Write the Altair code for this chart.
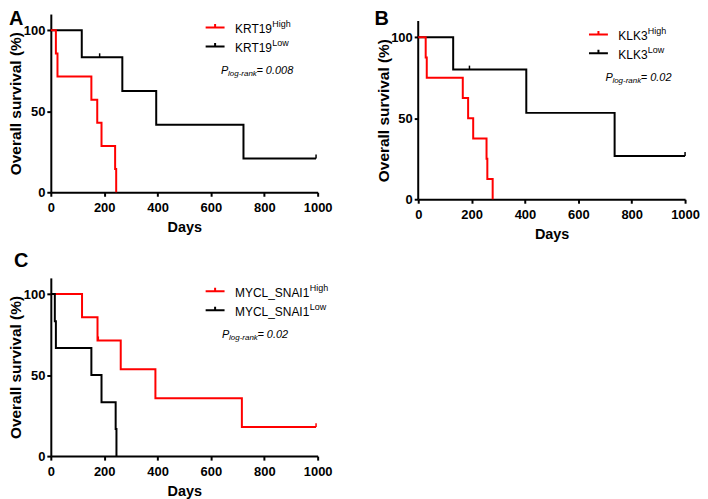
import altair as alt
import pandas as pd

# ---------------- data ----------------
# Panel A : KRT19
A_high_days = [0, 19, 25, 152, 174, 190, 241, 245]
A_high_surv = [100, 85.7, 71.4, 57.1, 42.9, 28.6, 14.3, 0]
A_low_days = [0, 116, 268, 395, 722, 994]
A_low_surv = [100, 83.3, 62.5, 41.7, 20.8, 20.8]
A_low_cens_days = [183, 994]
A_low_cens_surv = [83.3, 20.8]

# Panel B : KLK3
B_high_days = [0, 28, 32, 167, 187, 206, 256, 259, 279]
B_high_surv = [100, 87.5, 75, 62.5, 50, 37.5, 25, 12.5, 0]
B_low_days = [0, 131, 405, 736, 1000]
B_low_surv = [100, 80, 53.3, 26.7, 26.7]
B_low_cens_days = [192, 1000]
B_low_cens_surv = [80, 26.7]

# Panel C : MYCL_SNAI1
C_high_days = [0, 117, 175, 262, 392, 716, 994]
C_high_surv = [100, 85.7, 71.4, 53.6, 35.7, 17.9, 17.9]
C_high_cens_days = [178, 994]
C_high_cens_surv = [71.4, 17.9]
C_low_days = [0, 15, 19, 152, 190, 243, 246]
C_low_surv = [100, 83.3, 66.7, 50, 33.3, 16.7, 0]

x_ticks = [0, 200, 400, 600, 800, 1000]
y_ticks = [0, 50, 100]
Y_MAX = 110

RED = "#ff0000"
BLACK = "#000000"
FONT = "Liberation Sans"
W, H = 268, 179
B_SHIFT = 7  # panel B sits 7px lower than panel A
PX_PER_UNIT = H / Y_MAX

ONE = alt.InlineData(values=[{"k": 1}])


def make_axes(extra_top):
    xaxis = alt.Axis(values=x_ticks, format="d", title="Days", grid=False, domainColor=BLACK,
                     domainWidth=2, tickColor=BLACK, tickWidth=2, tickSize=4, labelFont=FONT,
                     labelFontWeight="bold", labelFontSize=13, labelColor=BLACK, labelPadding=5.5,
                     labelFlush=False, labelOverlap=False, titleFont=FONT, titleFontWeight="bold",
                     titleFontSize=14.5, titleColor=BLACK, titlePadding=6)
    yaxis = alt.Axis(values=y_ticks, title="Overall survival (%)", grid=False,
                     domain=(extra_top == 0), domainColor=BLACK, domainWidth=2,
                     tickColor=BLACK, tickWidth=2, tickSize=4, labelFont=FONT,
                     labelFontWeight="bold", labelFontSize=13, labelColor=BLACK, labelPadding=2,
                     titleFont=FONT, titleFontWeight="bold", titleFontSize=15.5, titleColor=BLACK,
                     titleX=-27, titleY=extra_top + H / 2, titleAngle=270, titleBaseline="bottom",
                     titleAlign="center")
    return xaxis, yaxis


def panel(series, censored, name, sup_dx, pval, sx, tx, px, label, label_x, label_y, extra_top=0):
    xaxis, yaxis = make_axes(extra_top)
    xscale = alt.Scale(domain=[0, 1000], nice=False)
    yscale = alt.Scale(domain=[0, Y_MAX + extra_top / PX_PER_UNIT], nice=False)

    def enc(ch):
        return ch.encode(x=alt.X("Days:Q", scale=xscale, axis=xaxis),
                         y=alt.Y("Surv:Q", scale=yscale, axis=yaxis))

    def txt(s, x, y, size, weight="normal", style="normal", baseline="middle"):
        return alt.Chart(ONE).mark_text(text=s, fontSize=size, font=FONT, fontWeight=weight,
                                        fontStyle=style, color=BLACK, align="left",
                                        baseline=baseline).encode(
            x=alt.value(x), y=alt.value(y + extra_top))

    def sym(x, y, color):
        return alt.Chart(ONE).mark_point(shape="M-1,0L1,0M0,0L0,-0.37", size=361, filled=False,
                                         color=color, strokeWidth=2, opacity=1).encode(
            x=alt.value(x), y=alt.value(y + extra_top))

    layers = []
    if extra_top:
        layers.append(alt.Chart(ONE).mark_rule(color=BLACK, strokeWidth=2).encode(
            x=alt.value(0), y=alt.Y(datum=0, scale=yscale, axis=yaxis), y2=alt.Y2(datum=Y_MAX)))
    for days, surv, color in series:
        df = pd.DataFrame({"Days": days, "Surv": surv})
        layers.append(enc(alt.Chart(df).mark_line(interpolate="step-after", color=color,
                                                  strokeWidth=2)))
    for days, surv, color in censored:
        df = pd.DataFrame({"Days": days, "Surv": surv})
        layers.append(enc(alt.Chart(df).mark_point(shape="M0,0L0,-1", size=64, filled=False,
                                                   color=color, strokeWidth=1.5, opacity=1)))
    hy, ly, py = 15.5, 34.5, 57.5
    layers += [
        sym(sx, hy - 2, RED), txt(name, tx, hy, 12), txt("High", tx + sup_dx, hy - 5, 9),
        sym(sx, ly - 2, BLACK), txt(name, tx, ly, 12), txt("Low", tx + sup_dx, ly - 5, 9),
        txt("P", px, py, 11, style="italic"),
        txt("log-rank", px + 7, py + 3, 8, style="italic"),
        txt("= " + pval, px + 35.5, py, 11, style="italic"),
    ]
    lab = alt.Chart(ONE).mark_text(text=label, fontSize=20, font=FONT, fontWeight="bold",
                                   color=BLACK, align="left", baseline="top").encode(
        x=alt.value(label_x), y=alt.value(label_y))
    layers.append(lab)
    return alt.layer(*layers).properties(width=W, height=H + extra_top)


panelA = panel([(A_low_days, A_low_surv, BLACK), (A_high_days, A_high_surv, RED)],
               [(A_low_cens_days, A_low_cens_surv, BLACK)],
               "KRT19", 37.5, "0.008", 165, 185, 171, "A", -42, -5)

panelB = panel([(B_low_days, B_low_surv, BLACK), (B_high_days, B_high_surv, RED)],
               [(B_low_cens_days, B_low_cens_surv, BLACK)],
               "KLK3", 29.5, "0.02", 181, 201, 188, "B", -44, -5, extra_top=B_SHIFT)

panelC = panel([(C_high_days, C_high_surv, RED), (C_low_days, C_low_surv, BLACK)],
               [(C_high_cens_days, C_high_cens_surv, RED)],
               "MYCL_SNAI1", 75, "0.02", 165, 185, 172, "C", -37, -26.8)

top = alt.hconcat(panelA, panelB, spacing=42)
chart = alt.vconcat(top, panelC, spacing=10).properties(
    padding=0, background="white"
).configure_view(stroke=None)

chart.save("out.html", embed_options={"renderer": "svg", "actions": False})
